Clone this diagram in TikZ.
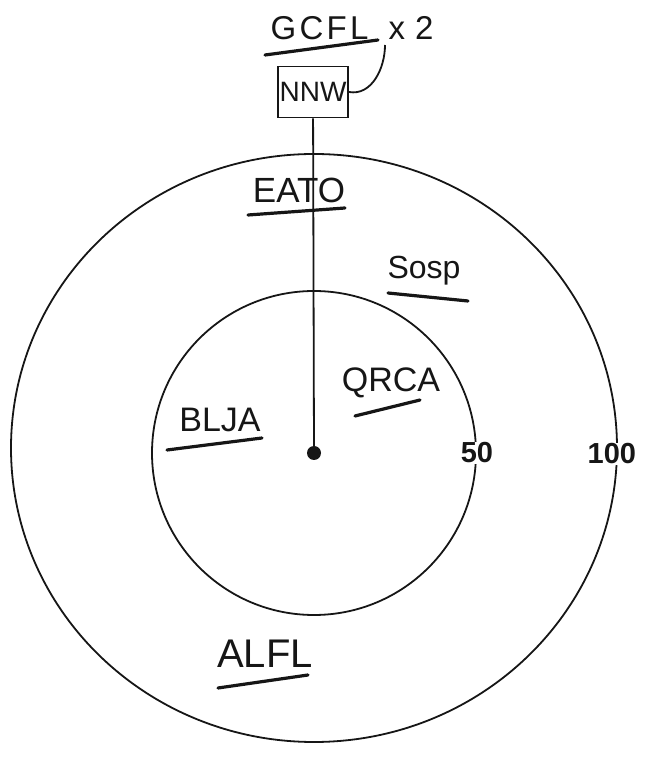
\documentclass[tikz,border=0pt]{standalone}
\usepackage{fontspec}
\setmainfont{Liberation Sans}
\usetikzlibrary{positioning,shapes.geometric}
\definecolor{inkBlack}{RGB}{22,22,22}

\begin{document}
\begin{tikzpicture}[x=1pt, y=1pt,
  hand/.style={font=\fontsize{#1}{#1}\selectfont, text=inkBlack, inner sep=1pt},
  hand/.default=34,
  ring/.style={draw=inkBlack, line width=1.8pt},
  uline/.style={draw=inkBlack, line width=3.2pt, line cap=round},
  scalelab/.style={font=\bfseries\fontsize{29}{29}\selectfont, text=inkBlack, fill=white, inner sep=1pt}]
\useasboundingbox (0,0) rectangle (645,761);

% rings and centre
\node[ring, ellipse, minimum width=606, minimum height=588, inner sep=0] (outer) at (314,313) {};
\node[ring, circle, minimum size=324, inner sep=0] (inner) at (314,308) {};
\node[circle, fill=inkBlack, minimum size=14, inner sep=0] (dot) at (314,308) {};
\node[scalelab] (r50) at (inner.east) {50};
\node[scalelab] (r100) at ([shift={(-6,-6)}]outer.east) {100};

% feeder box
\node[ring, hand=28, minimum width=70, minimum height=51, inner sep=0] (nnw) at (313,669) {NNW};
\draw[ring] (nnw) -- (dot);

% labels
\node[hand=33] (gcfl) at (352,733) {\addfontfeatures{LetterSpace=10}GCFL\hspace{20pt}x\hspace{10pt}2};
\coordinate (gcflend) at ([shift={(33,-17)}]gcfl.center);
\node[hand=35] (eato) at (299,571) {EATO};
\node[hand=32] (sosp) at (424,490) {Sosp};
\node[hand=34] (qrca) at (391,378) {QRCA};
\node[hand=34] (blja) at (220,341) {BLJA};
\node[hand=40] (alfl) at (265,107) {ALFL};

\draw[ring] (nnw.east) to[out=-10, in=-90] (gcflend);

% underlines
\draw[uline] ([shift={(-87,-27)}]gcfl.center) -- ([shift={(26,-12)}]gcfl.center);
\draw[uline] ([shift={(-51,-25)}]eato.center) -- ([shift={(46,-18)}]eato.center);
\draw[uline] ([shift={(-36,-22)}]sosp.center) -- ([shift={(44,-30)}]sosp.center);
\draw[uline] ([shift={(-36,-33)}]qrca.center) -- ([shift={(29,-17)}]qrca.center);
\draw[uline] ([shift={(-53,-30)}]blja.center) -- ([shift={(42,-18)}]blja.center);
\draw[uline] ([shift={(-47,-34)}]alfl.center) -- ([shift={(43,-21)}]alfl.center);
\end{tikzpicture}
\end{document}
